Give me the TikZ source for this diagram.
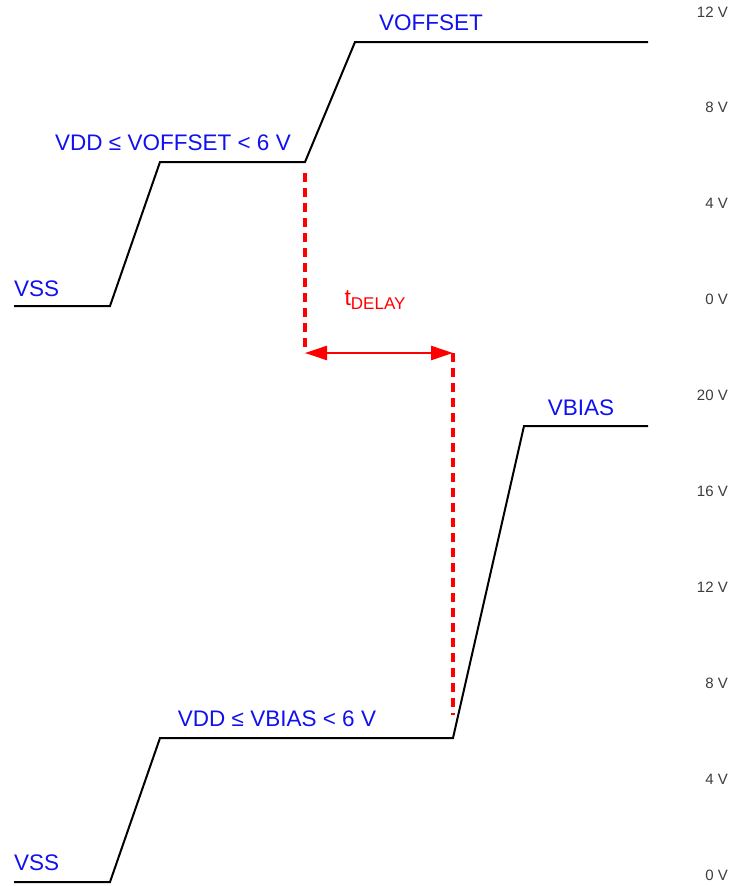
\documentclass[tikz,border=0pt]{standalone}
\usepackage{fontspec}
\setmainfont{Liberation Sans}
\usetikzlibrary{arrows.meta,positioning}
\definecolor{sigblue}{RGB}{16,16,240}
\definecolor{delayred}{RGB}{255,0,0}
\definecolor{axgray}{RGB}{60,60,60}

\tikzset{
  wave/.style={black, line width=2pt, line join=miter},
  siglbl/.style={text=sigblue, font=\fontsize{22.5}{26}\selectfont, inner sep=0pt},
  axlbl/.style={text=axgray, font=\fontsize{15}{18}\selectfont, inner sep=0pt, anchor=east},
  delayline/.style={delayred, line width=3.5pt, dash pattern=on 9pt off 6pt},
  delayarrow/.style={delayred, line width=2.5pt, {Triangle[length=22pt,width=14pt]}-{Triangle[length=22pt,width=14pt]}}
}

\begin{document}
\begin{tikzpicture}[x=1pt, y=-1pt]
  \useasboundingbox (0,0) rectangle (730,886);

  % VOFFSET waveform
  \coordinate (off0) at (14,306);
  \coordinate (off1) at (110,306);
  \coordinate (off2) at (160,162);
  \coordinate (off3) at (305,162);
  \coordinate (off4) at (355,42);
  \coordinate (off5) at (648,42);
  \draw[wave] (off0) -- (off1) -- (off2) -- (off3) -- (off4) -- (off5);

  % VBIAS waveform
  \coordinate (bias0) at (14,882);
  \coordinate (bias1) at (110,882);
  \coordinate (bias2) at (160,738);
  \coordinate (bias3) at (453,738);
  \coordinate (bias4) at (524,426);
  \coordinate (bias5) at (648,426);
  \draw[wave] (bias0) -- (bias1) -- (bias2) -- (bias3) -- (bias4) -- (bias5);

  % signal labels
  \node[siglbl, anchor=west] (vssoff) at (14,289) {VSS};
  \node[siglbl] (offlow) at (173,143) {VDD ≤ VOFFSET < 6 V};
  \node[siglbl] (offhigh) at (431,23) {VOFFSET};
  \node[siglbl, anchor=west] (vssbias) at (14,863) {VSS};
  \node[siglbl] (biaslow) at (277,719) {VDD ≤ VBIAS < 6 V};
  \node[siglbl] (biashigh) at (581,408) {VBIAS};

  % delay markers
  \coordinate (dly1top) at (305,173);
  \coordinate (dly1bot) at (305,353);
  \coordinate (dly2top) at (453,353);
  \coordinate (dly2bot) at (453,715);
  \draw[delayline] (dly1top) -- (dly1bot);
  \draw[delayline] (dly2top) -- (dly2bot);
  \draw[delayarrow] (dly1bot) -- (dly2top);
  \node[text=delayred, font=\fontsize{23}{26}\selectfont, inner sep=0pt] (tdelay) at (375,300)
    {t\raisebox{-0.3ex}{\fontsize{17}{20}\selectfont DELAY}};

  % voltage scales
  \foreach \v [count=\i from 0] in {12,8,4,0}
    \node[axlbl] (axoff\i) at (728,12+\i*95.7) {\v\ V};
  \foreach \v [count=\i from 0] in {20,16,12,8,4,0}
    \node[axlbl] (axbias\i) at (728,395+\i*96) {\v\ V};
\end{tikzpicture}
\end{document}
